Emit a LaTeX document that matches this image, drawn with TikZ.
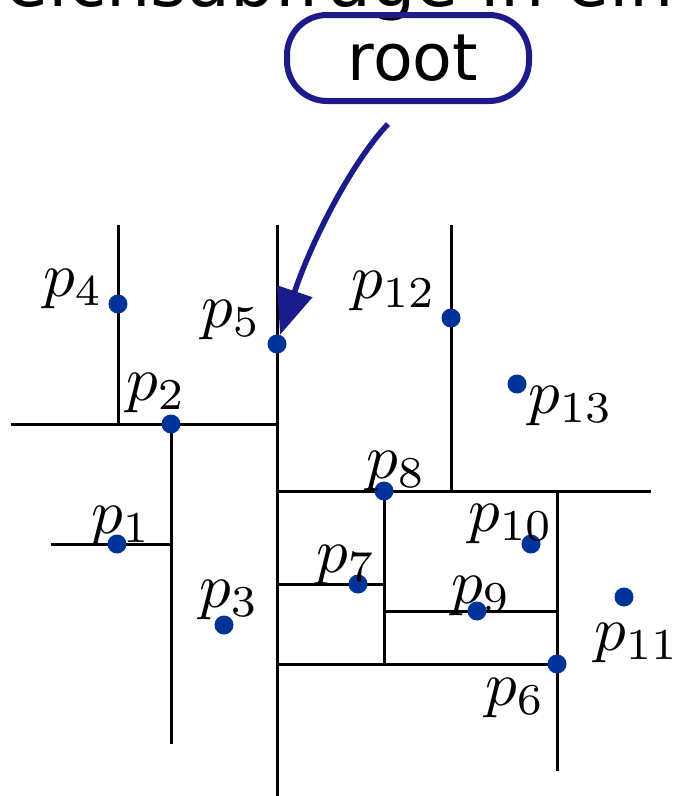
\documentclass[tikz,border=0pt]{standalone}
\usepackage{fontspec}
\newfontfamily\dejavu{DejaVu Sans}
\usetikzlibrary{arrows.meta}
\definecolor{ptblue}{RGB}{0,51,153}
\definecolor{rootblue}{RGB}{27,27,139}
\begin{document}
\begin{tikzpicture}[x=1pt,y=-1pt,
  split/.style={line width=3pt, black},
  pt/.style={circle, fill=ptblue, inner sep=0pt, minimum size=19pt},
  lab/.style={anchor=base west, inner sep=0pt, scale=6.3},
  ]
\useasboundingbox (0,0) rectangle (680,796);
% title (cut off at top)
\node[anchor=base west, inner sep=0pt, font=\dejavu\fontsize{70}{84}\selectfont] (title) at (-113,6) {Bereichsabfrage in einem};
% root
\node[draw=rootblue, line width=6pt, rounded corners=40pt, minimum width=242pt, minimum height=86pt, inner sep=0pt, font=\dejavu\fontsize{65}{78}\selectfont] (root) at (408,58) {\hspace*{10pt}root};
% split line end points
\coordinate (v5t) at (277,225); \coordinate (v5b) at (277,797);
\coordinate (h2l) at (11,424); \coordinate (h2r) at (277,424);
\coordinate (v4t) at (118,225); \coordinate (v4b) at (118,424);
\coordinate (v2t) at (171,424); \coordinate (v2b) at (171,744);
\coordinate (h1l) at (51,544); \coordinate (h1r) at (171,544);
\coordinate (h8l) at (277,491); \coordinate (h8r) at (651,491);
\coordinate (v12t) at (451,225); \coordinate (v12b) at (451,491);
\coordinate (v6t) at (557,491); \coordinate (v6b) at (557,771);
\coordinate (h6l) at (277,664); \coordinate (h6r) at (557,664);
\coordinate (v8t) at (384,491); \coordinate (v8b) at (384,664);
\coordinate (h7l) at (277,584); \coordinate (h7r) at (384,584);
\coordinate (h9l) at (384,611); \coordinate (h9r) at (557,611);
\draw[split] (v5t) -- (v5b);
\draw[split] (h2l) -- (h2r);
\draw[split] (v4t) -- (v4b);
\draw[split] (v2t) -- (v2b);
\draw[split] (h1l) -- (h1r);
\draw[split] (h8l) -- (h8r);
\draw[split] (v12t) -- (v12b);
\draw[split] (v6t) -- (v6b);
\draw[split] (h6l) -- (h6r);
\draw[split] (v8t) -- (v8b);
\draw[split] (h7l) -- (h7r);
\draw[split] (h9l) -- (h9r);
% points
\node[pt] (p1) at (117,544) {};
\node[pt] (p2) at (171,424) {};
\node[pt] (p3) at (224,625) {};
\node[pt] (p4) at (118,304) {};
\node[pt] (p5) at (277,344) {};
\node[pt] (p6) at (557,664) {};
\node[pt] (p7) at (358,584) {};
\node[pt] (p8) at (384,491) {};
\node[pt] (p9) at (477,611) {};
\node[pt] (p10) at (531,544) {};
\node[pt] (p11) at (624,597) {};
\node[pt] (p12) at (451,318) {};
\node[pt] (p13) at (517,384) {};
% labels
\node[lab] (l1) at (90,533) {$p_1$};
\node[lab] (l2) at (125,400) {$p_2$};
\node[lab] (l3) at (198,607) {$p_3$};
\node[lab] (l4) at (42,296) {$p_4$};
\node[lab] (l5) at (200,327) {$p_5$};
\node[lab] (l6) at (484,705) {$p_6$};
\node[lab] (l7) at (315,572) {$p_7$};
\node[lab] (l8) at (365,478) {$p_8$};
\node[lab] (l9) at (450,603) {$p_9$};
\node[lab] (l10) at (467,531) {$p_{10}$};
\node[lab] (l11) at (593,650) {$p_{11}$};
\node[lab] (l12) at (350,298) {$p_{12}$};
\node[lab] (l13) at (527,413) {$p_{13}$};
% arrow from root to p5
\coordinate (astart) at (388,124);
\draw[rootblue, line width=5.5pt, -{Triangle[length=46pt,width=36pt]}] (astart) .. controls (352,162) and (312,240) .. (p5);
\end{tikzpicture}
\end{document}
